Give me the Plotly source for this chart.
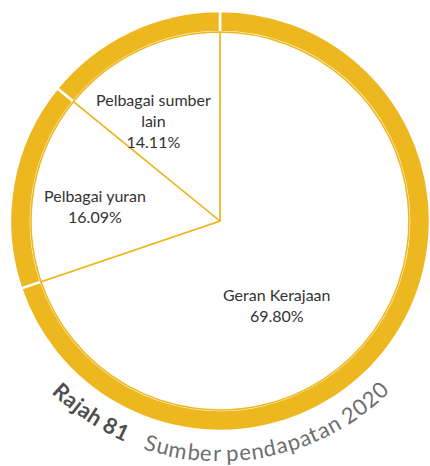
import math
import plotly.graph_objects as go

# Sumber pendapatan 2020 (peratus)
categories = ["Geran Kerajaan", "Pelbagai yuran", "Pelbagai sumber lain"]
shares = [69.80, 16.09, 14.11]
label_lines = ["Geran Kerajaan", "Pelbagai yuran", "Pelbagai sumber<br>lain"]
caption_number = "Rajah 81"
caption_text = "Sumber pendapatan 2020"

W, H = 430, 466
CX, CY = 220, 221          # pie centre, pixels
R_OUT = 210                # outer edge of the ring
R_IN = 189                 # inner edge of the ring / radius of the pie
YELLOW = "#EDB81F"
FONT = "Lato"


def px_x(x):
    return x / W


def px_y(y):
    return 1 - y / H


def domain_for(r):
    return dict(x=[px_x(CX - r), min(1.0, px_x(CX + r))],
                y=[px_y(CY + r), px_y(CY - r)])


fig = go.Figure()

# Thick outer ring, split by white gaps at the slice boundaries
fig.add_trace(go.Pie(
    labels=categories, values=shares, sort=False,
    direction="clockwise", rotation=0, hole=R_IN / R_OUT,
    marker=dict(colors=[YELLOW] * len(shares), line=dict(color="white", width=2.5)),
    textinfo="none", hoverinfo="skip", showlegend=False,
    domain=domain_for(R_OUT),
))

# White slices with thin yellow borders inside the ring
fig.add_trace(go.Pie(
    labels=categories, values=shares, sort=False,
    direction="clockwise", rotation=0,
    marker=dict(colors=["white"] * len(shares), line=dict(color=YELLOW, width=1.6)),
    textinfo="none", hovertemplate="%{label}: %{value:.2f}%<extra></extra>",
    showlegend=False,
    domain=domain_for(R_IN),
))

# Slice labels (pixel position of each text block)
label_pos = [(276, 305), (95, 206), (153, 120)]
annotations = []
for name, val, (lx, ly) in zip(label_lines, shares, label_pos):
    annotations.append(dict(
        x=px_x(lx), y=px_y(ly), xref="paper", yref="paper",
        text=f"{name}<br>{val:.2f}%", showarrow=False,
        xanchor="center", yanchor="middle", align="center",
        font=dict(family=FONT, size=16, color="#333333"),
    ))

# Caption set along an arc under the ring
ADV = {"R": .62, "a": .50, "j": .24, "h": .56, " ": .22, "8": .58, "1": .58,
       "S": .52, "u": .56, "m": .84, "b": .56, "e": .52, "r": .37, "p": .56,
       "n": .56, "d": .56, "t": .36, "2": .58, "0": .58}


def arc_text(text, phi_first, phi_last, radius, size, color, bold):
    widths = [ADV.get(c, .55) for c in text]
    centres, acc = [], 0.0
    for w in widths:
        centres.append(acc + w / 2)
        acc += w
    span = centres[-1] - centres[0]
    out = []
    for ch, pos in zip(text, centres):
        if ch == " ":
            continue
        t = (pos - centres[0]) / span
        phi = math.radians(phi_first + t * (phi_last - phi_first))
        x = CX + radius * math.sin(phi)
        y = CY + radius * math.cos(phi)
        out.append(dict(
            x=px_x(x), y=px_y(y), xref="paper", yref="paper",
            text=f"<b>{ch}</b>" if bold else ch, showarrow=False,
            xanchor="center", yanchor="middle",
            textangle=-math.degrees(phi),
            font=dict(family=FONT, size=size, color=color),
        ))
    return out


annotations += arc_text(caption_number, -42.8, -24.8, 232, 22, "#4f4f4f", True)
annotations += arc_text(caption_text, -17.4, 43.5, 232, 22, "#6e6e6e", False)

fig.update_layout(
    width=W, height=H,
    margin=dict(l=0, r=0, t=0, b=0),
    paper_bgcolor="white", plot_bgcolor="white",
    showlegend=False,
    annotations=annotations,
)

fig.write_html("out.html")
